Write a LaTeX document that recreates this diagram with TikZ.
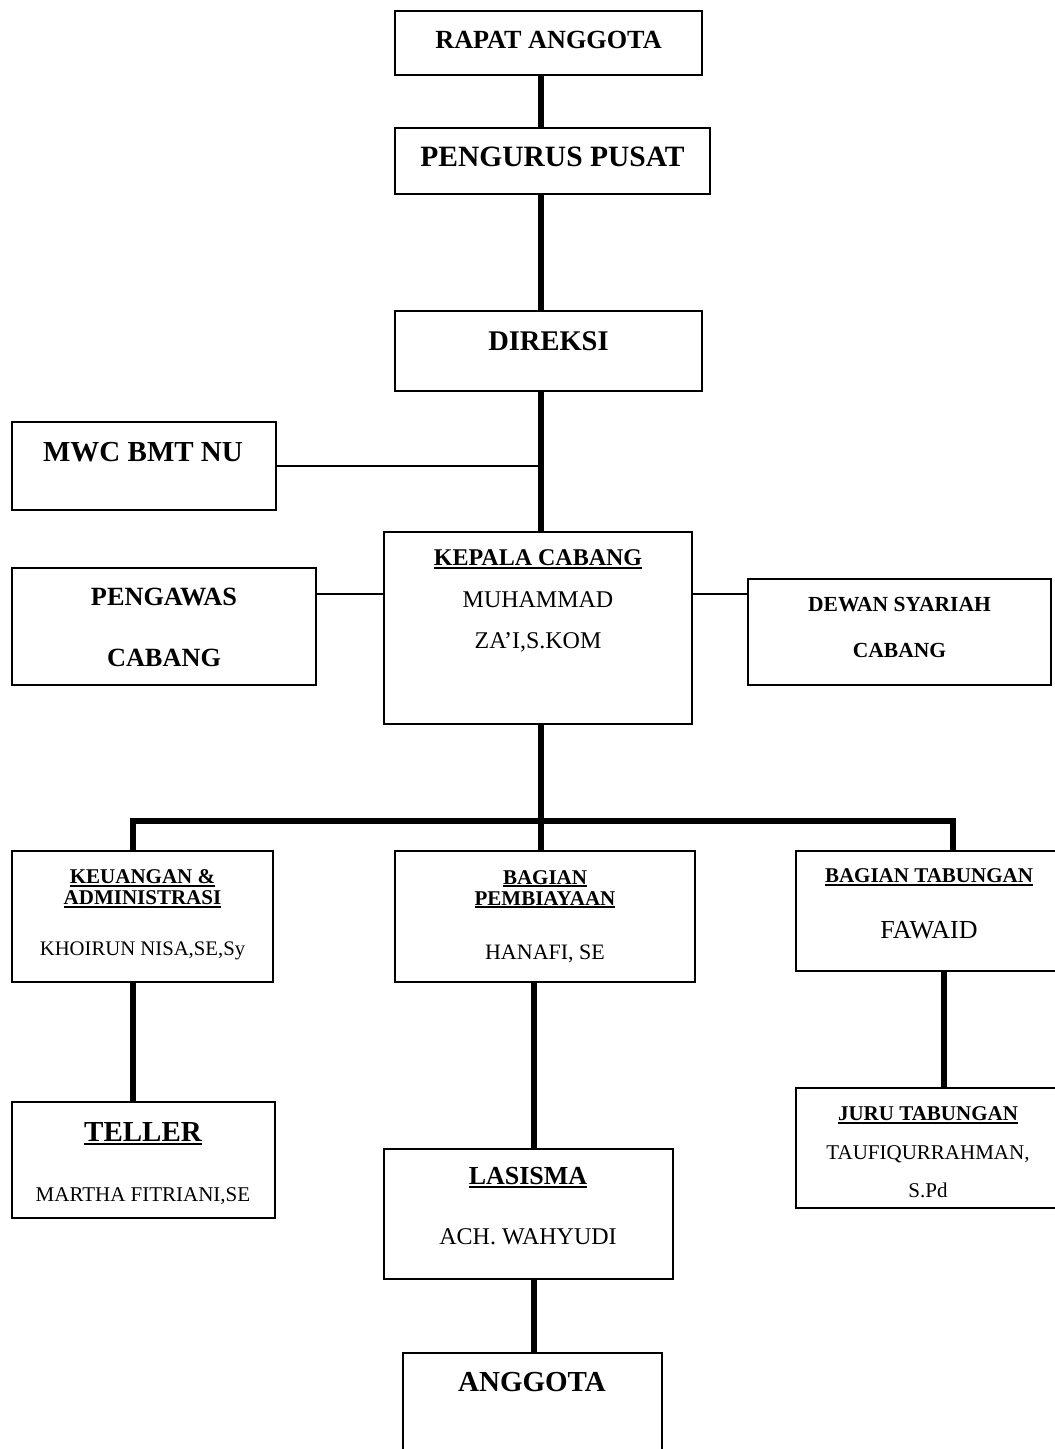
\documentclass[tikz,border=0pt]{standalone}
\usepackage{fontspec}
\setmainfont{Liberation Serif}
\newcommand\ulx[1]{\setbox0=\hbox{#1}\rlap{\copy0}\raisebox{-0.13em}{\rule{\wd0}{0.075em}}}
\tikzset{
  box/.style={draw, line width=1.6pt, inner sep=0pt, outer sep=0pt},
  tb/.style={font=\bfseries\fontsize{#1pt}{#1pt}\selectfont, inner sep=0pt, anchor=base},
  tr/.style={font=\fontsize{#1pt}{#1pt}\selectfont, inner sep=0pt, anchor=base},
  thickc/.style={line width=5.6pt, line join=miter},
  thinc/.style={line width=1.6pt}
}
\begin{document}
\begin{tikzpicture}[x=1pt,y=-1pt]
\useasboundingbox (0,0) rectangle (1055,1449);
% boxes
\node[box, minimum width=307pt, minimum height=64pt] (rapat) at (548.5,43) {};
\node[box, minimum width=315pt, minimum height=66pt] (pengurus) at (552.5,161) {};
\node[box, minimum width=307pt, minimum height=80pt] (direksi) at (548.5,351) {};
\node[box, minimum width=264pt, minimum height=88pt] (mwc) at (144,466) {};
\node[box, minimum width=308pt, minimum height=192pt] (kepala) at (538,628) {};
\node[box, minimum width=304pt, minimum height=117pt] (pengawas) at (164,626.5) {};
\node[box, minimum width=303pt, minimum height=106pt] (dewan) at (899.5,632) {};
\node[box, minimum width=261pt, minimum height=131pt] (keu) at (142.5,916.5) {};
\node[box, minimum width=300pt, minimum height=131pt] (pemb) at (545,916.5) {};
\node[box, minimum width=266pt, minimum height=120pt] (tab) at (929,911) {};
\node[box, minimum width=266pt, minimum height=120pt] (juru) at (929,1148) {};
\node[box, minimum width=263pt, minimum height=116pt] (teller) at (143.5,1160) {};
\node[box, minimum width=289pt, minimum height=130pt] (lasisma) at (528.5,1214) {};
\node[box, minimum width=259pt, minimum height=107pt] (anggota) at (532.5,1406.5) {};
% texts
\node[tb=26.2] (t-rapat) at (548.5,48.2) {RAPAT ANGGOTA};
\node[tb=29.5] (t-pengurus) at (552.5,166.7) {PENGURUS PUSAT};
\node[tb=28.5] (t-direksi) at (548.5,350.4) {DIREKSI};
\node[tb=29] (t-mwc) at (143,461.6) {MWC BMT NU};
\node[tb=26.3] (t-peng1) at (164,605.2) {PENGAWAS};
\node[tb=26.3] (t-peng2) at (164,666.2) {CABANG};
\node[tb=21.5] (t-dew1) at (899.5,611) {DEWAN SYARIAH};
\node[tb=21.5] (t-dew2) at (899.5,657) {CABANG};
\node[tb=24] (t-kep1) at (538,565.9) {\ulx{KEPALA CABANG}};
\node[tr=24] (t-kep2) at (538,607.4) {MUHAMMAD};
\node[tr=24] (t-kep3) at (538,648.9) {ZA’I,S.KOM};
\node[tb=21] (t-keu1) at (142.5,883.9) {\ulx{KEUANGAN \&}};
\node[tb=21] (t-keu2) at (142.5,904.9) {\ulx{ADMINISTRASI}};
\node[tr=20.7] (t-keu3) at (142.5,955.8) {KHOIRUN NISA,SE,Sy};
\node[tb=21] (t-pem1) at (545,884) {\ulx{BAGIAN}};
\node[tb=21] (t-pem2) at (545,905) {\ulx{PEMBIAYAAN}};
\node[tr=22] (t-pem3) at (545,959.3) {HANAFI, SE};
\node[tb=21] (t-tab1) at (929,882.9) {\ulx{BAGIAN TABUNGAN}};
\node[tr=26] (t-tab2) at (929,938.6) {FAWAID};
\node[tb=21] (t-jur1) at (928,1120.9) {\ulx{JURU TABUNGAN}};
\node[tr=21] (t-jur2) at (928,1159.4) {TAUFIQURRAHMAN,};
\node[tr=21] (t-jur3) at (928,1197.9) {S.Pd};
\node[tb=29] (t-tel1) at (143,1141.1) {\ulx{TELLER}};
\node[tr=21] (t-tel2) at (143,1201.4) {MARTHA FITRIANI,SE};
\node[tb=26] (t-las1) at (528,1184.6) {\ulx{LASISMA}};
\node[tr=24] (t-las2) at (528,1244.9) {ACH. WAHYUDI};
\node[tb=29] (t-ang) at (532,1391.6) {ANGGOTA};
% helper coordinates
\coordinate (tx) at (541,0);
\coordinate (dropL) at (133,0);
\coordinate (dropR) at (953,0);
\coordinate (bus) at (0,821);
\coordinate (sidey) at (0,594);
\coordinate (mwcy) at (0,466);
\coordinate (lx) at (534,0);
\coordinate (rx) at (944,0);
% connectors
\draw[thickc] (rapat.south -| tx) -- (pengurus.north -| tx);
\draw[thickc] (pengurus.south -| tx) -- (direksi.north -| tx);
\draw[thickc] (direksi.south -| tx) -- (kepala.north -| tx);
\draw[thickc] (kepala.south -| tx) -- (pemb.north -| tx);
\draw[thinc] (mwc.east) -- (mwcy -| tx);
\draw[thinc] (pengawas.east |- sidey) -- (kepala.west |- sidey);
\draw[thinc] (kepala.east |- sidey) -- (dewan.west |- sidey);
\draw[thickc] (keu.north -| dropL) |- (bus -| dropR) -- (tab.north -| dropR);
\draw[thickc] (keu.south -| dropL) -- (teller.north -| dropL);
\draw[thickc] (pemb.south -| lx) -- (lasisma.north -| lx);
\draw[thickc] (lasisma.south -| lx) -- (anggota.north -| lx);
\draw[thickc] (tab.south -| rx) -- (juru.north -| rx);
\end{tikzpicture}
\end{document}
